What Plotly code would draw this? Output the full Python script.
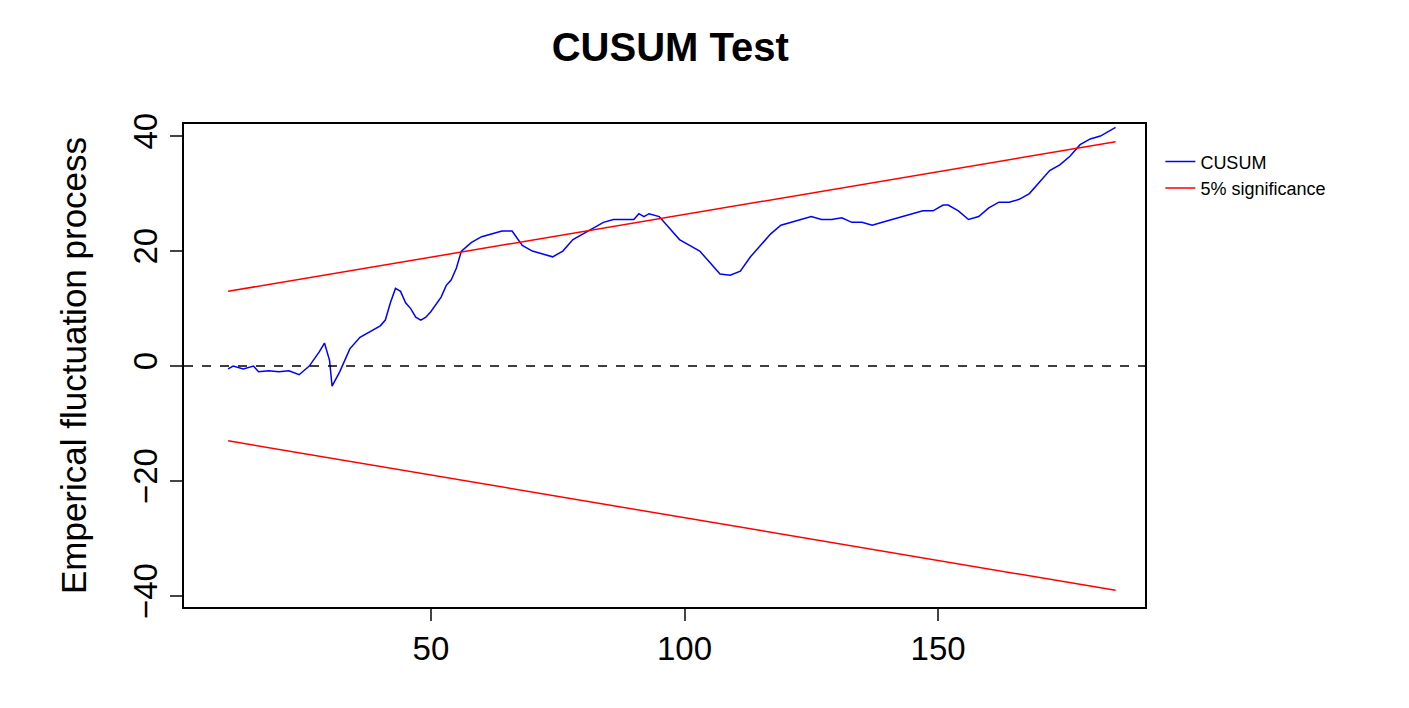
import plotly.graph_objects as go

cx = [10,11,13,15,16,18,20,22,24,26,28,29,30,30.5,32,34,36,38,40,41,42,43,44,45,46,47,48,49,50,52,53,54,55,56,58,60,62,64,66,68,70,72,74,76,78,80,82,84,86,88,90,91,92,93,95,97,99,101,103,105,107,109,111,113,115,117,119,121,123,125,127,129,131,133,135,137,139,141,143,145,147,149,151,152,154,156,158,160,162,164,166,168,170,172,174,176,178,180,182,184,185]
cy = [-0.5,0,-0.5,0,-1,-0.8,-1,-0.8,-1.5,0,2.5,4,1,-3.5,-1,3,5,6,7,8,11,13.5,13,11,10,8.5,8,8.5,9.5,12,14,15,17,20,21.5,22.5,23,23.5,23.5,21,20,19.5,19,20,22,23,24,25,25.5,25.5,25.5,26.5,26,26.5,26,24,22,21,20,18,16,15.8,16.5,19,21,23,24.5,25,25.5,26,25.5,25.5,25.8,25,25,24.5,25,25.5,26,26.5,27,27,28,28,27,25.5,26,27.5,28.5,28.5,29,30,32,34,35,36.5,38.5,39.5,40,41,41.5]
bx = [10, 185]
by_up = [13, 39]
by_lo = [-13, -39]

fig = go.Figure()
fig.add_trace(go.Scatter(x=cx, y=cy, mode="lines", line=dict(color="blue", width=1.5), name="CUSUM"))
fig.add_trace(go.Scatter(x=bx, y=by_up, mode="lines", line=dict(color="red", width=1.5), name="5% significance"))
fig.add_trace(go.Scatter(x=bx, y=by_lo, mode="lines", line=dict(color="red", width=1.5), showlegend=False))
fig.add_hline(y=0, line=dict(color="black", dash="dash", width=1.5))

fig.update_layout(
    width=1409, height=708, plot_bgcolor="white", paper_bgcolor="white",
    margin=dict(l=176, r=272, t=116, b=109),
    title=dict(text="<b>CUSUM Test</b>", x=0.47, xanchor="center", y=0.965, font=dict(size=40, color="black", family="Liberation Sans")),
    font=dict(family="Liberation Sans", color="black"),
    legend=dict(x=1.016, y=0.96, xanchor="left", yanchor="top", font=dict(size=18), bgcolor="rgba(0,0,0,0)"),
)
fig.update_xaxes(range=[1.3, 190.8], tickvals=[50, 100, 150], ticks="outside", ticklen=12, tickwidth=1.5,
                 tickfont=dict(size=33), showgrid=False, zeroline=False, showline=True, mirror=True,
                 linecolor="black", linewidth=1.5)
fig.update_yaxes(range=[-41.9, 42.1], tickvals=[-40, -20, 0, 20, 40], ticks="outside", ticklen=12, tickwidth=1.5,
                 tickangle=-90, tickfont=dict(size=33), showgrid=False, zeroline=False, showline=True, mirror=True,
                 linecolor="black", linewidth=1.5,
                 title=dict(text="Emperical fluctuation process", font=dict(size=35), standoff=30))
fig.write_html("out.html")
